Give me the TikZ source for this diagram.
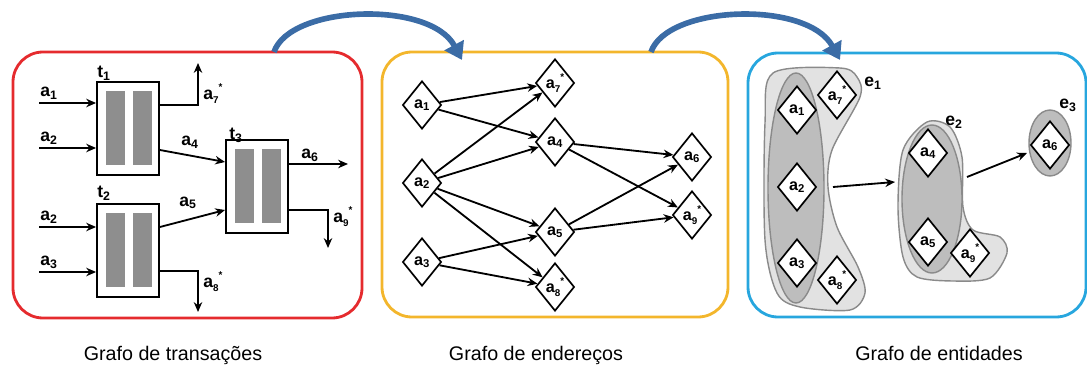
\documentclass[tikz,border=0pt]{standalone}
\usepackage{fontspec}
\setmainfont{Liberation Sans}
\usetikzlibrary{shapes.geometric,arrows.meta}
\definecolor{framered}{HTML}{E52B2E}
\definecolor{frameyellow}{HTML}{F3B62C}
\definecolor{frameblue}{HTML}{27A6DE}
\definecolor{arcblue}{HTML}{3B6CA6}
\definecolor{bargray}{HTML}{8E8E8E}
\definecolor{blobgray}{HTML}{E2E2E2}
\definecolor{coregray}{HTML}{BDBDBD}
\definecolor{edgegray}{HTML}{8A8A8A}
\newcommand{\ad}[1]{a\textsubscript{#1}}
\newcommand{\ads}[1]{a\raisebox{-0.5ex}{\scriptsize #1}\raisebox{0.9ex}{\scriptsize *}}

\begin{document}
\begin{tikzpicture}[x=0.025cm,y=-0.025cm,
		panel/.style={line width=2pt,rounded corners=0.75cm},
		flow/.style={line width=1.3pt,-{Stealth[length=7pt,width=6pt]}},
		trans/.style={draw,line width=1.3pt,fill=white,minimum width=1.55cm,minimum height=2.33cm,inner sep=0pt},
		bar/.style={fill=bargray},
		lab/.style={font=\bfseries\fontsize{12.5}{13}\selectfont,inner sep=1pt},
		addr/.style={draw,diamond,line width=1.2pt,fill=white,inner sep=0pt,minimum width=0.97cm,minimum height=1.2cm,font=\bfseries\fontsize{11.5}{12}\selectfont},
		blob/.style={fill=blobgray,draw=edgegray,line width=1pt},
		core/.style={fill=coregray,draw=edgegray,line width=1pt},
		hop/.style={line width=4pt,arcblue,-{Triangle[length=12pt,width=15pt]}},
		caption/.style={font=\fontsize{14}{16}\selectfont,anchor=base}]
	\useasboundingbox (0,0) rectangle (1087,367);
	% panels
	\draw[panel,framered] (13,52) rectangle (362,318);
	\draw[panel,frameyellow] (382,52) rectangle (728,317);
	\draw[panel,frameblue] (748,53) rectangle (1086,317);
	% hops between panels
	\coordinate (h1s) at (274,52);
	\coordinate (h1e) at (462,60);
	\coordinate (h2s) at (651,52);
	\coordinate (h2e) at (840,60);
	\draw[hop] (h1s) .. controls (290,5) and (430,0) .. (h1e);
	\draw[hop] (h2s) .. controls (667,5) and (807,0) .. (h2e);

	% transaction graph
	\node[trans] (t1) at (128,128.5) {};
	\node[trans] (t2) at (128,250.5) {};
	\node[trans] (t3) at (257,186.5) {};
	\fill[bar] ([shift={(-22,-37)}]t1.center) rectangle ([shift={(-3,37)}]t1.center);
	\fill[bar] ([shift={(5,-37)}]t1.center) rectangle ([shift={(24,37)}]t1.center);
	\fill[bar] ([shift={(-22,-37)}]t2.center) rectangle ([shift={(-3,37)}]t2.center);
	\fill[bar] ([shift={(5,-37)}]t2.center) rectangle ([shift={(24,37)}]t2.center);
	\fill[bar] ([shift={(-22,-37)}]t3.center) rectangle ([shift={(-3,37)}]t3.center);
	\fill[bar] ([shift={(5,-37)}]t3.center) rectangle ([shift={(24,37)}]t3.center);
	\node[lab] (lt1) at (104,73) {t\textsubscript{1}};
	\node[lab] (lt2) at (104,193) {t\textsubscript{2}};
	\node[lab] (lt3) at (236,135) {t\textsubscript{3}};

	\coordinate (i1) at (39,103);
	\coordinate (i2) at (39,148);
	\coordinate (i3) at (39,227);
	\coordinate (i4) at (39,272);
	\coordinate (o7) at (198,63);
	\coordinate (o8) at (198,312);
	\coordinate (o6) at (348,164);
	\coordinate (o9) at (328,248);
	\draw[flow] (i1) -- (i1 -| t1.west);
	\draw[flow] (i2) -- (i2 -| t1.west);
	\draw[flow] (i3) -- (i3 -| t2.west);
	\draw[flow] (i4) -- (i4 -| t2.west);
	\draw[flow] (t1.east |- 0,105) -| (o7);
	\draw[flow] (t1.east |- 0,150) -- (t3.west |- 0,162);
	\draw[flow] (t2.east |- 0,227) -- (t3.west |- 0,210);
	\draw[flow] (t2.east |- 0,271) -| (o8);
	\draw[flow] (t3.east |- 0,164) -- (o6);
	\draw[flow] (t3.east |- 0,210) -| (o9);
	\node[lab] (la1) at (49,93) {\ad{1}};
	\node[lab] (la2) at (49,138) {\ad{2}};
	\node[lab] (lb2) at (49,217) {\ad{2}};
	\node[lab] (la3) at (49,262) {\ad{3}};
	\node[lab] (la7) at (213,94) {\ads{7}};
	\node[lab] (la4) at (190,142) {\ad{4}};
	\node[lab] (la5) at (188,203) {\ad{5}};
	\node[lab] (la8) at (213,282) {\ads{8}};
	\node[lab] (la6) at (310,155) {\ad{6}};
	\node[lab] (la9) at (343,217) {\ads{9}};

	% address graph
	\node[addr] (m1) at (422,105) {\ad{1}};
	\node[addr] (m2) at (422,183) {\ad{2}};
	\node[addr] (m3) at (422,262) {\ad{3}};
	\node[addr] (m7) at (555,83) {\ads{7}};
	\node[addr] (m4) at (555,142) {\ad{4}};
	\node[addr] (m5) at (555,232) {\ad{5}};
	\node[addr] (m8) at (555,287) {\ads{8}};
	\node[addr] (m6) at (692,157) {\ad{6}};
	\node[addr] (m9) at (692,215) {\ads{9}};
	\draw[flow] (m1) -- (m7);
	\draw[flow] (m1) -- (m4);
	\draw[flow] (m2) -- (m7);
	\draw[flow] (m2) -- (m4);
	\draw[flow] (m2) -- (m5);
	\draw[flow] (m2) -- (m8);
	\draw[flow] (m3) -- (m5);
	\draw[flow] (m3) -- (m8);
	\draw[flow] (m4) -- (m6);
	\draw[flow] (m4) -- (m9);
	\draw[flow] (m5) -- (m6);
	\draw[flow] (m5) -- (m9);

	% entity graph
	\draw[blob] plot[smooth cycle] coordinates {(773,73) (840,68) (857,77) (860,97) (832,150) (828,187) (837,227) (858,267) (865,293) (850,310) (800,307) (777,293) (765,240) (765,123)};
	\draw[core] (796,188) ellipse [x radius=28,y radius=115];
	\draw[blob] plot[smooth cycle] coordinates {(927,122) (903,150) (898,207) (903,257) (917,277) (953,281) (990,278) (1007,253) (1000,237) (973,230) (963,207) (962,157) (950,127)};
	\draw[core] (932,199) ellipse [x radius=30,y radius=74];
	\draw[core] (1050,143) ellipse [x radius=21,y radius=33];
	\node[addr] (r1) at (797,110) {\ad{1}};
	\node[addr] (r2) at (797,187) {\ad{2}};
	\node[addr] (r3) at (797,263) {\ad{3}};
	\node[addr] (r7) at (837,95) {\ads{7}};
	\node[addr] (r8) at (837,280) {\ads{8}};
	\node[addr] (r4) at (928,153) {\ad{4}};
	\node[addr] (r5) at (928,242) {\ad{5}};
	\node[addr] (r9) at (970,253) {\ads{9}};
	\node[addr] (r6) at (1050,145) {\ad{6}};
	\node[lab] (le1) at (873,83) {e\textsubscript{1}};
	\node[lab] (le2) at (954,122) {e\textsubscript{2}};
	\node[lab] (le3) at (1068,105) {e\textsubscript{3}};
	\coordinate (e1out) at (833,187);
	\coordinate (e2in) at (895,182);
	\coordinate (e2out) at (967,177);
	\coordinate (e3in) at (1027,153);
	\draw[flow] (e1out) -- (e2in);
	\draw[flow] (e2out) -- (e3in);

	% captions
	\node[caption] (c1) at (173,361) {Grafo de transações};
	\node[caption] (c2) at (536,361) {Grafo de endereços};
	\node[caption] (c3) at (939,361) {Grafo de entidades};
\end{tikzpicture}
\end{document}
